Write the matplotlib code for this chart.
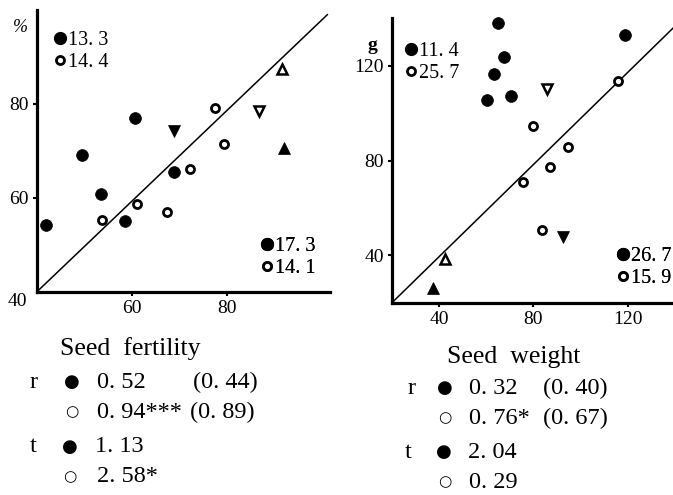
import matplotlib
matplotlib.use('Agg')
import matplotlib.pyplot as plt
from matplotlib.lines import Line2D

plt.rcParams['font.family'] = ['Liberation Serif', 'DejaVu Sans']

# seed fertility (%)
fert_filled_x = [41.8, 49.4, 53.4, 58.5, 60.6, 68.8]
fert_filled_y = [54.3, 69.1, 60.8, 55.0, 76.9, 65.4]
fert_open_x = [53.7, 61.0, 67.3, 72.2, 77.4, 79.2]
fert_open_y = [55.3, 58.7, 56.9, 66.2, 79.2, 71.4]
fert_tri = {'v_filled': (68.7, 74.3), 'v_open': (86.6, 78.5),
            '^_open': (91.5, 87.5), '^_filled': (91.8, 70.6)}
fert_line_x = [40, 101]
fert_line_y = [40, 99]
fert_key_top = ['13. 3', '14. 4']
fert_key_bottom = ['17. 3', '14. 1']

# seed weight (g)
wt_filled_x = [60.3, 63.1, 64.8, 67.6, 70.4, 119.0]
wt_filled_y = [105.5, 116.5, 138.1, 123.5, 107.2, 133.0]
wt_open_x = [75.8, 79.7, 83.9, 87.0, 94.9, 115.8]
wt_open_y = [70.9, 94.7, 50.7, 77.4, 85.7, 113.5]
wt_tri = {'v_open': (86.0, 110.0), 'v_filled': (92.8, 47.6),
          '^_open': (42.5, 38.3), '^_filled': (37.6, 26.1)}
wt_line_x = [20, 140]
wt_line_y = [20, 136.5]
wt_key_top = ['11. 4', '25. 7']
wt_key_bottom = ['26. 7', '15. 9']

W, H = 673, 495
fig = plt.figure(figsize=(W / 100, H / 100), dpi=100)


def px(x, y):
    return x / W, 1 - y / H


def style_axes(ax):
    for s in ['top', 'right']:
        ax.spines[s].set_visible(False)
    for s in ['left', 'bottom']:
        ax.spines[s].set_linewidth(2.3)
    ax.tick_params(direction='out', length=3, width=1.5, labelsize=14, pad=3)


def draw_points(ax, fx, fy, ox, oy, tri):
    ax.plot(fx, fy, 'o', color='black', ms=8.5, mew=0.5, clip_on=False)
    ax.plot(ox, oy, 'o', mfc='white', mec='black', ms=5.8, mew=2.0, clip_on=False)
    for key, (x, y) in tri.items():
        m = key[0]
        if key.endswith('filled'):
            ax.plot(x, y, m, color='black', ms=8.5, mew=0.5, clip_on=False)
        else:
            ax.plot(x, y, m, mfc='white', mec='black', ms=7, mew=1.8, clip_on=False)


def keys(ax, labels, anchor):
    h = [Line2D([], [], marker='o', ls='none', color='black', ms=8.5),
         Line2D([], [], marker='o', ls='none', mfc='white', mec='black', ms=5.8, mew=2.0)]
    leg = ax.legend(h, labels, loc='upper left', bbox_to_anchor=anchor, frameon=False,
                    fontsize=14.5, handlelength=0.6, handletextpad=0.1, labelspacing=0.15,
                    borderpad=0, borderaxespad=0)
    ax.add_artist(leg)


# left panel
ax1 = fig.add_axes([37 / W, 1 - 291.7 / H, 292.7 / W, 281.7 / H])
ax1.set_xlim(40, 101.5)
ax1.set_ylim(40, 100)
style_axes(ax1)
ax1.set_xticks([60, 80])
ax1.set_yticks([60, 80])
ax1.plot(fert_line_x, fert_line_y, color='black', lw=1.1, clip_on=False)
draw_points(ax1, fert_filled_x, fert_filled_y, fert_open_x, fert_open_y, fert_tri)
keys(ax1, fert_key_top, (0.058, 0.925))
keys(ax1, fert_key_bottom, (0.765, 0.194))
fig.text(*px(27, 301), '40', fontsize=14, ha='right', va='center')
fig.text(*px(20, 28), '%', fontsize=13, ha='center', va='center', style='italic')

# right panel
ax2 = fig.add_axes([392 / W, 1 - 302.7 / H, 282.6 / W, 284.4 / H])
ax2.set_xlim(20, 140)
ax2.set_ylim(20, 140)
style_axes(ax2)
ax2.set_xticks([40, 80, 120])
ax2.set_yticks([40, 80, 120])
ax2.plot(wt_line_x, wt_line_y, color='black', lw=1.1, clip_on=False)
draw_points(ax2, wt_filled_x, wt_filled_y, wt_open_x, wt_open_y, wt_tri)
keys(ax2, wt_key_top, (0.046, 0.918))
keys(ax2, wt_key_bottom, (0.796, 0.197))
fig.text(*px(372, 45), 'g', fontsize=14, ha='center', va='center', weight='bold')

# statistics below the panels
big = 17.5
dot = dict(fontsize=13, ha='center', va='center', family='DejaVu Sans')
ring = dict(fontsize=11, ha='center', va='center', family='DejaVu Sans')
fig.text(*px(60, 349), 'Seed  fertility', fontsize=18.5, va='center')
fig.text(*px(30, 382), 'r', fontsize=big, va='center')
fig.text(*px(72, 382), '●', **dot)
fig.text(*px(97, 382), '0. 52', fontsize=big, va='center')
fig.text(*px(193, 382), '(0. 44)', fontsize=big, va='center')
fig.text(*px(72, 412), '○', **ring)
fig.text(*px(97, 412), '0. 94***', fontsize=big, va='center')
fig.text(*px(190, 412), '(0. 89)', fontsize=big, va='center')
fig.text(*px(30, 447), 't', fontsize=big, va='center')
fig.text(*px(70, 447), '●', **dot)
fig.text(*px(95, 447), '1. 13', fontsize=big, va='center')
fig.text(*px(70, 477), '○', **ring)
fig.text(*px(97, 477), '2. 58*', fontsize=big, va='center')

fig.text(*px(447, 357), 'Seed  weight', fontsize=18.5, va='center')
fig.text(*px(408, 388), 'r', fontsize=big, va='center')
fig.text(*px(445, 388), '●', **dot)
fig.text(*px(469, 388), '0. 32', fontsize=big, va='center')
fig.text(*px(543, 388), '(0. 40)', fontsize=big, va='center')
fig.text(*px(445, 418), '○', **ring)
fig.text(*px(469, 418), '0. 76*', fontsize=big, va='center')
fig.text(*px(543, 418), '(0. 67)', fontsize=big, va='center')
fig.text(*px(405, 452), 't', fontsize=big, va='center')
fig.text(*px(444, 452), '●', **dot)
fig.text(*px(468, 452), '2. 04', fontsize=big, va='center')
fig.text(*px(445, 482), '○', **ring)
fig.text(*px(469, 482), '0. 29', fontsize=big, va='center')

fig.savefig('out.png', dpi=100)
